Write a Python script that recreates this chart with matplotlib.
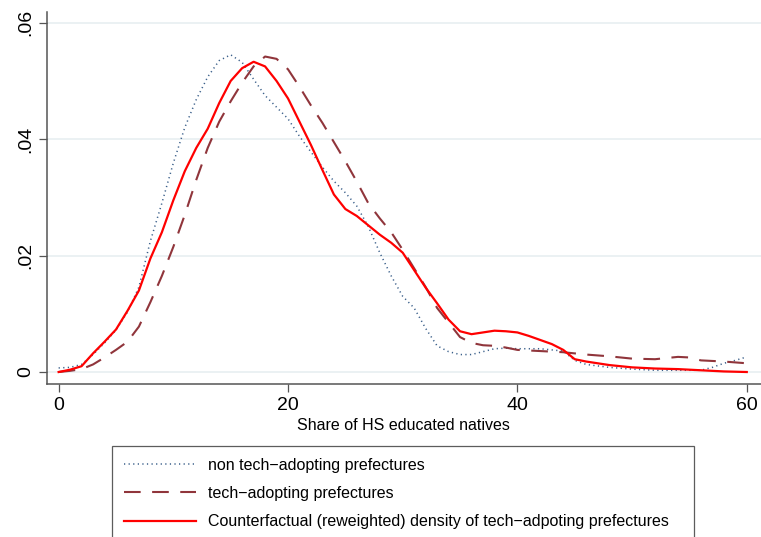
import matplotlib
matplotlib.use("Agg")
import matplotlib.pyplot as plt

plt.rcParams['font.family'] = ['Liberation Sans', 'DejaVu Sans']

# Non tech-adopting prefectures (dotted)
x_non = [0, 1, 2, 3, 4, 5, 6, 7, 8, 9, 10, 11, 12, 13, 14, 15, 16, 17, 18, 19,
         20, 21, 22, 23, 24, 25, 26, 27, 28, 29, 30, 31, 32, 33, 34, 35, 36, 37,
         38, 39, 40, 42, 44, 45, 46, 48, 50, 52, 54, 56, 57, 58, 59, 60]
y_non = [0.0007, 0.0008, 0.0013, 0.0030, 0.0050, 0.0072, 0.0103, 0.0146, 0.0225,
         0.0290, 0.0359, 0.0420, 0.0468, 0.0507, 0.0535, 0.0545, 0.0532, 0.0503,
         0.0475, 0.0455, 0.0435, 0.0405, 0.0378, 0.0352, 0.0328, 0.0308, 0.0285,
         0.0250, 0.0205, 0.0165, 0.0130, 0.0110, 0.0075, 0.0045, 0.0035, 0.0030,
         0.0030, 0.0035, 0.0040, 0.0041, 0.0040, 0.0040, 0.0036, 0.0020, 0.0013,
         0.0008, 0.0005, 0.0003, 0.0003, 0.0003, 0.0008, 0.0015, 0.0020, 0.0026]

# Tech-adopting prefectures (dashed)
x_tech = [0, 1, 2, 3, 4, 5, 6, 7, 8, 9, 10, 11, 12, 13, 14, 15, 16, 17, 18, 19,
          20, 21, 22, 23, 24, 25, 26, 27, 28, 29, 30, 31, 32, 33, 34, 35, 36, 37,
          38, 39, 40, 42, 44, 46, 48, 50, 52, 54, 55, 56, 58, 60]
y_tech = [0.0000, 0.0002, 0.0005, 0.0013, 0.0025, 0.0038, 0.0052, 0.0078, 0.0120,
          0.0165, 0.0215, 0.0270, 0.0330, 0.0385, 0.0430, 0.0465, 0.0497, 0.0525,
          0.0542, 0.0538, 0.0520, 0.0490, 0.0458, 0.0428, 0.0395, 0.0362, 0.0327,
          0.0290, 0.0264, 0.0240, 0.0210, 0.0178, 0.0146, 0.0110, 0.0085, 0.0060,
          0.0050, 0.0046, 0.0045, 0.0042, 0.0038, 0.0036, 0.0034, 0.0030, 0.0027,
          0.0023, 0.0022, 0.0026, 0.0025, 0.0020, 0.0018, 0.0015]

# Counterfactual (reweighted) density (solid red)
x_cf = [0, 1, 2, 3, 4, 5, 6, 7, 8, 9, 10, 11, 12, 13, 14, 15, 16, 17, 18, 19,
        20, 21, 22, 23, 24, 25, 26, 27, 28, 29, 30, 31, 32, 33, 34, 35, 36, 37,
        38, 39, 40, 41, 42, 43, 44, 45, 46, 48, 50, 52, 54, 56, 58, 60]
y_cf = [0.0000, 0.0004, 0.0010, 0.0032, 0.0052, 0.0073, 0.0105, 0.0140, 0.0195,
        0.0240, 0.0295, 0.0345, 0.0385, 0.0418, 0.0462, 0.0500, 0.0522, 0.0533,
        0.0525, 0.0500, 0.0470, 0.0430, 0.0390, 0.0347, 0.0305, 0.0280, 0.0268,
        0.0252, 0.0236, 0.0222, 0.0205, 0.0175, 0.0145, 0.0118, 0.0090, 0.0070,
        0.0065, 0.0068, 0.0071, 0.0070, 0.0068, 0.0062, 0.0055, 0.0048, 0.0038,
        0.0022, 0.0018, 0.0012, 0.0008, 0.0006, 0.0005, 0.0003, 0.0001, 0.0000]

x_ticks = [0, 20, 40, 60]
x_tick_labels = ["0", "20", "40", "60"]
y_ticks = [0, 0.02, 0.04, 0.06]
y_tick_labels = ["0", ".02", ".04", ".06"]

labels = ["non tech\u2212adopting prefectures",
          "tech\u2212adopting prefectures",
          "Counterfactual (reweighted) density of tech\u2212adpoting prefectures"]
x_label = "Share of HS educated natives"

W, H = 761, 537
fig = plt.figure(figsize=(W / 100, H / 100), dpi=100)
left = 46.7 / W
bottom = (H - 384.3) / H
top = (H - 11.7) / H
ax = fig.add_axes([left, bottom, 1.0 - left, top - bottom])

for y in y_ticks:
    ax.axhline(y, color='#e8eff1', lw=1.2, zorder=0)

l1, = ax.plot(x_non, y_non, color='#3a5f8a', lw=1.1, linestyle=(0, (0.8, 2.2)),
              label=labels[0], zorder=2)
l2, = ax.plot(x_tech, y_tech, color='#90353b', lw=1.5, linestyle=(0, (8, 5.5)),
              label=labels[1], zorder=3)
l3, = ax.plot(x_cf, y_cf, color='red', lw=1.6, label=labels[2], zorder=4)

ax.set_xlim(-1.04, 61.24)
ax.set_ylim(-0.00211, 0.0619)
ax.set_xticks(x_ticks)
ax.set_xticklabels(x_tick_labels)
ax.set_yticks(y_ticks)
ax.set_yticklabels(y_tick_labels)
for lab in ax.get_yticklabels():
    lab.set_rotation(90)
    lab.set_va('center')

ax.tick_params(axis='both', direction='out', length=5.5, width=0.9,
               color='#555555', labelsize=14, pad=3.5, labelcolor='black')
for s in ['top', 'right']:
    ax.spines[s].set_visible(False)
for s in ['left', 'bottom']:
    ax.spines[s].set_color('#555555')
    ax.spines[s].set_linewidth(1.1)

ax.set_xlabel(x_label, fontsize=11.5, labelpad=3)

leg_x0 = 112 / W
leg_top = (H - 446) / H
leg_w = (694 - 112) / W
leg = fig.legend(handles=[l1, l2, l3], labels=labels, loc='upper left',
                 bbox_to_anchor=(leg_x0, leg_top - 0.2, leg_w, 0.2),
                 mode='expand', borderaxespad=0, fontsize=11.5,
                 handlelength=4.5, handletextpad=0.75, borderpad=0.74,
                 labelspacing=0.83, fancybox=False, frameon=True)
leg.get_frame().set_edgecolor('#333333')
leg.get_frame().set_linewidth(0.9)

fig.savefig("out.png", dpi=100)
